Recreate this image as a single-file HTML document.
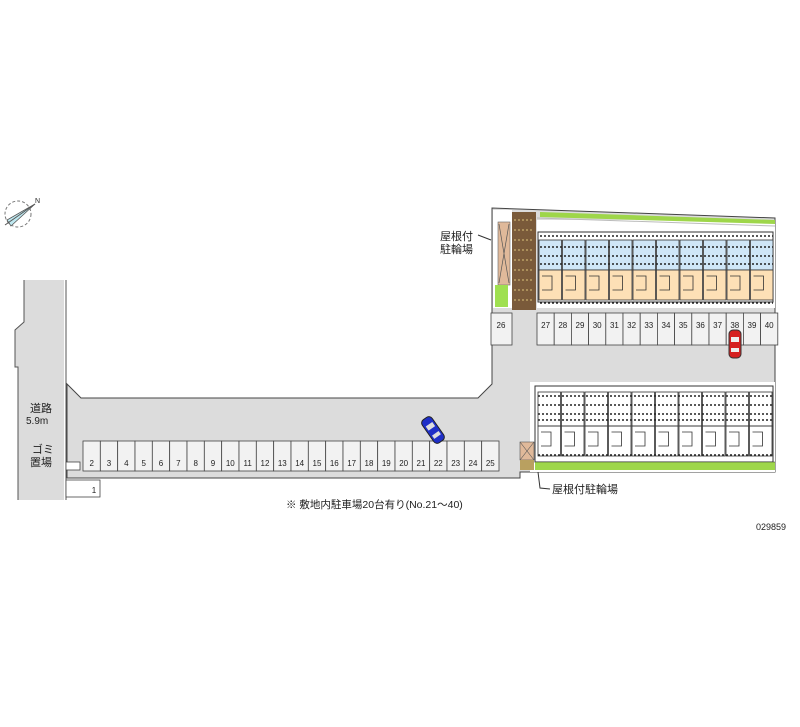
<!DOCTYPE html>
<html><head><meta charset="utf-8"><style>
html,body{margin:0;padding:0;background:#fff;}
svg{display:block;}
text{font-family:"Liberation Sans","Noto Sans CJK JP",sans-serif;fill:#222;}
</style></head><body>
<svg width="800" height="727" viewBox="0 0 800 727" xmlns="http://www.w3.org/2000/svg">
<path d="M24,280 L24,322 L15,330 L15,367 L18,367 L18,500 L64,500 L64,280 Z" fill="#dcdcdc"/>
<path d="M24,280 L24,322 L15,330 L15,367 L18,367 L18,500" fill="none" stroke="#555" stroke-width="1"/>
<line x1="66" y1="280" x2="66" y2="500" stroke="#555"/>
<path d="M67,384 L81,398 L478,398 L492,384 L492,208 L775,218 L775,472 L520,472 L520,478 L67,478 Z" fill="#dcdcdc" stroke="#444" stroke-width="1"/>
<rect x="537" y="220" width="238" height="88" fill="#fff"/>
<rect x="530" y="382" width="245" height="90" fill="#fff"/>
<line x1="537" y1="218" x2="775" y2="226" stroke="#bbb"/>
<path d="M540,212 L775,220 L775,224 L540,217 Z" fill="#9ed64a"/>
<rect x="493" y="210" width="19" height="98" fill="#fff"/>
<rect x="498" y="222" width="12" height="63" fill="#e0b99a" stroke="#666" stroke-width="0.6"/>
<path d="M499,224 L509,283 M509,224 L499,283" stroke="#555" stroke-width="0.7"/>
<rect x="495" y="285" width="13" height="22" fill="#9fe050"/>
<rect x="512" y="212" width="24" height="98" fill="#7a5a3a"/>
<g stroke="#d9c27a" stroke-width="1" stroke-dasharray="2,2">
<line x1="514" y1="220" x2="534" y2="220"/><line x1="514" y1="230" x2="534" y2="230"/><line x1="514" y1="240" x2="534" y2="240"/><line x1="514" y1="250" x2="534" y2="250"/><line x1="514" y1="260" x2="534" y2="260"/><line x1="514" y1="270" x2="534" y2="270"/><line x1="514" y1="280" x2="534" y2="280"/><line x1="514" y1="290" x2="534" y2="290"/><line x1="514" y1="300" x2="534" y2="300"/>
</g>
<rect x="538" y="232" width="235" height="70" fill="#fff" stroke="#333"/>
<g stroke="#333" stroke-width="0.8">
<rect x="539" y="240" width="22.5" height="30" fill="#cfe6f7"/><rect x="539" y="270" width="22.5" height="30" fill="#fde0b6"/>
<rect x="562.5" y="240" width="22.5" height="30" fill="#cfe6f7"/><rect x="562.5" y="270" width="22.5" height="30" fill="#fde0b6"/>
<rect x="586" y="240" width="22.5" height="30" fill="#cfe6f7"/><rect x="586" y="270" width="22.5" height="30" fill="#fde0b6"/>
<rect x="609.5" y="240" width="22.5" height="30" fill="#cfe6f7"/><rect x="609.5" y="270" width="22.5" height="30" fill="#fde0b6"/>
<rect x="633" y="240" width="22.5" height="30" fill="#cfe6f7"/><rect x="633" y="270" width="22.5" height="30" fill="#fde0b6"/>
<rect x="656.5" y="240" width="22.5" height="30" fill="#cfe6f7"/><rect x="656.5" y="270" width="22.5" height="30" fill="#fde0b6"/>
<rect x="680" y="240" width="22.5" height="30" fill="#cfe6f7"/><rect x="680" y="270" width="22.5" height="30" fill="#fde0b6"/>
<rect x="703.5" y="240" width="22.5" height="30" fill="#cfe6f7"/><rect x="703.5" y="270" width="22.5" height="30" fill="#fde0b6"/>
<rect x="727" y="240" width="22.5" height="30" fill="#cfe6f7"/><rect x="727" y="270" width="22.5" height="30" fill="#fde0b6"/>
<rect x="750.5" y="240" width="22.5" height="30" fill="#cfe6f7"/><rect x="750.5" y="270" width="22.5" height="30" fill="#fde0b6"/>
</g>
<g stroke="#222" stroke-width="1.5" stroke-dasharray="2,2">
<line x1="540" y1="236" x2="773" y2="236"/><line x1="540" y1="247" x2="773" y2="247"/><line x1="540" y1="256" x2="773" y2="256"/><line x1="540" y1="264" x2="773" y2="264"/><line x1="540" y1="303" x2="773" y2="303"/>
</g>
<g stroke="#333" stroke-width="0.8" fill="none">
<path d="M542,276 h10 v14 h-10 M565.5,276 h10 v14 h-10 M589,276 h10 v14 h-10 M612.5,276 h10 v14 h-10 M636,276 h10 v14 h-10 M659.5,276 h10 v14 h-10 M683,276 h10 v14 h-10 M706.5,276 h10 v14 h-10 M730,276 h10 v14 h-10 M753.5,276 h10 v14 h-10"/>
</g>
<g fill="#f2f2f2" stroke="#444" stroke-width="0.8">
<rect x="491" y="313" width="21" height="32"/>
<rect x="537" y="313" width="17.2" height="32"/><rect x="554.2" y="313" width="17.2" height="32"/><rect x="571.4" y="313" width="17.2" height="32"/><rect x="588.6" y="313" width="17.2" height="32"/><rect x="605.8" y="313" width="17.2" height="32"/><rect x="623" y="313" width="17.2" height="32"/><rect x="640.2" y="313" width="17.2" height="32"/><rect x="657.4" y="313" width="17.2" height="32"/><rect x="674.6" y="313" width="17.2" height="32"/><rect x="691.8" y="313" width="17.2" height="32"/><rect x="709" y="313" width="17.2" height="32"/><rect x="726.2" y="313" width="17.2" height="32"/><rect x="743.4" y="313" width="17.2" height="32"/><rect x="760.6" y="313" width="17.2" height="32"/>
</g>
<g font-size="8" text-anchor="middle">
<text x="501" y="328">26</text>
<text x="545.6" y="328">27</text><text x="562.8" y="328">28</text><text x="580" y="328">29</text><text x="597.2" y="328">30</text><text x="614.4" y="328">31</text><text x="631.6" y="328">32</text><text x="648.8" y="328">33</text><text x="666" y="328">34</text><text x="683.2" y="328">35</text><text x="700.4" y="328">36</text><text x="717.6" y="328">37</text><text x="734.8" y="328">38</text><text x="752" y="328">39</text><text x="769.2" y="328">40</text>
</g>
<rect x="729" y="330" width="12" height="28" rx="4" fill="#d62020" stroke="#333"/>
<rect x="731" y="337" width="8" height="5" fill="#eee"/><rect x="731" y="348" width="8" height="4" fill="#eee"/>
<rect x="535" y="386" width="238" height="76" fill="#fff" stroke="#333"/>
<g stroke="#333" stroke-width="0.8" fill="none">
<rect x="538" y="392" width="22.5" height="34"/><rect x="538" y="426" width="22.5" height="30"/>
<rect x="561.5" y="392" width="22.5" height="34"/><rect x="561.5" y="426" width="22.5" height="30"/>
<rect x="585" y="392" width="22.5" height="34"/><rect x="585" y="426" width="22.5" height="30"/>
<rect x="608.5" y="392" width="22.5" height="34"/><rect x="608.5" y="426" width="22.5" height="30"/>
<rect x="632" y="392" width="22.5" height="34"/><rect x="632" y="426" width="22.5" height="30"/>
<rect x="655.5" y="392" width="22.5" height="34"/><rect x="655.5" y="426" width="22.5" height="30"/>
<rect x="679" y="392" width="22.5" height="34"/><rect x="679" y="426" width="22.5" height="30"/>
<rect x="702.5" y="392" width="22.5" height="34"/><rect x="702.5" y="426" width="22.5" height="30"/>
<rect x="726" y="392" width="22.5" height="34"/><rect x="726" y="426" width="22.5" height="30"/>
<rect x="749.5" y="392" width="22.5" height="34"/><rect x="749.5" y="426" width="22.5" height="30"/>
<path d="M541,432 h10 v14 h-10 M564.5,432 h10 v14 h-10 M588,432 h10 v14 h-10 M611.5,432 h10 v14 h-10 M635,432 h10 v14 h-10 M658.5,432 h10 v14 h-10 M682,432 h10 v14 h-10 M705.5,432 h10 v14 h-10 M729,432 h10 v14 h-10 M752.5,432 h10 v14 h-10"/>
</g>
<g stroke="#222" stroke-width="1.5" stroke-dasharray="2,2">
<line x1="538" y1="396" x2="772" y2="396"/><line x1="538" y1="405" x2="772" y2="405"/><line x1="538" y1="414" x2="772" y2="414"/><line x1="538" y1="420" x2="772" y2="420"/><line x1="538" y1="455" x2="772" y2="455"/>
</g>
<rect x="535" y="462" width="240" height="8" fill="#9ed64a"/>
<line x1="535" y1="462" x2="775" y2="462" stroke="#333" stroke-width="0.6"/>
<rect x="520" y="442" width="14" height="18" fill="#e0b99a" stroke="#555" stroke-width="0.6"/>
<path d="M520,442 L534,460 M534,442 L520,460" stroke="#555" stroke-width="0.6"/>
<rect x="520" y="460" width="14" height="10" fill="#b9a060"/>
<g fill="#f2f2f2" stroke="#444" stroke-width="0.8">
<rect x="83" y="441" width="17.33" height="30"/><rect x="100.33" y="441" width="17.33" height="30"/><rect x="117.67" y="441" width="17.33" height="30"/><rect x="135" y="441" width="17.33" height="30"/><rect x="152.33" y="441" width="17.33" height="30"/><rect x="169.67" y="441" width="17.33" height="30"/><rect x="187" y="441" width="17.33" height="30"/><rect x="204.33" y="441" width="17.33" height="30"/><rect x="221.67" y="441" width="17.33" height="30"/><rect x="239" y="441" width="17.33" height="30"/><rect x="256.33" y="441" width="17.33" height="30"/><rect x="273.67" y="441" width="17.33" height="30"/><rect x="291" y="441" width="17.33" height="30"/><rect x="308.33" y="441" width="17.33" height="30"/><rect x="325.67" y="441" width="17.33" height="30"/><rect x="343" y="441" width="17.33" height="30"/><rect x="360.33" y="441" width="17.33" height="30"/><rect x="377.67" y="441" width="17.33" height="30"/><rect x="395" y="441" width="17.33" height="30"/><rect x="412.33" y="441" width="17.33" height="30"/><rect x="429.67" y="441" width="17.33" height="30"/><rect x="447" y="441" width="17.33" height="30"/><rect x="464.33" y="441" width="17.33" height="30"/><rect x="481.67" y="441" width="17.33" height="30"/>
<rect x="66" y="480" width="34" height="17" fill="#fff"/>
<rect x="66" y="462" width="14" height="8" fill="#fff"/>
</g>
<g font-size="8" text-anchor="middle">
<text x="91.7" y="466">2</text><text x="109" y="466">3</text><text x="126.3" y="466">4</text><text x="143.7" y="466">5</text><text x="161" y="466">6</text><text x="178.3" y="466">7</text><text x="195.7" y="466">8</text><text x="213" y="466">9</text><text x="230.3" y="466">10</text><text x="247.7" y="466">11</text><text x="265" y="466">12</text><text x="282.3" y="466">13</text><text x="299.7" y="466">14</text><text x="317" y="466">15</text><text x="334.3" y="466">16</text><text x="351.7" y="466">17</text><text x="369" y="466">18</text><text x="386.3" y="466">19</text><text x="403.7" y="466">20</text><text x="421" y="466">21</text><text x="438.3" y="466">22</text><text x="455.7" y="466">23</text><text x="473" y="466">24</text><text x="490.3" y="466">25</text>
<text x="94" y="493">1</text>
</g>
<g transform="translate(433,430) rotate(-35)">
<rect x="-6" y="-14" width="12" height="28" rx="4" fill="#1f2fc8" stroke="#222"/>
<rect x="-4" y="-7" width="8" height="5" fill="#ddd"/><rect x="-4" y="4" width="8" height="4" fill="#ddd"/>
</g>
<g transform="translate(18,214)">
<circle r="13" fill="none" stroke="#777" stroke-dasharray="3,2"/>
<path d="M-7,12 L17,-10 L-11,6 Z" fill="#bfe8f0" stroke="#555" stroke-width="0.8"/>
<line x1="-13" y1="11" x2="17" y2="-10" stroke="#555"/>
<text x="17" y="-11" font-size="7">N</text>
</g>
<g font-size="11">
<text x="440" y="240">屋根付</text>
<text x="440" y="253">駐輪場</text>
<line x1="478" y1="235" x2="491" y2="240" stroke="#333"/>
<text x="30" y="412">道路</text>
<text x="26" y="424" font-size="10">5.9m</text>
<text x="32" y="453">ゴミ</text>
<text x="30" y="466">置場</text>
<text x="286" y="508" font-size="10.5">※ 敷地内駐車場20台有り(No.21～40)</text>
<text x="552" y="493">屋根付駐輪場</text>
<path d="M538,472 L540,488 L550,489" fill="none" stroke="#333"/>
<text x="756" y="530" font-size="9">029859</text>
</g>
</svg>
</body></html>
